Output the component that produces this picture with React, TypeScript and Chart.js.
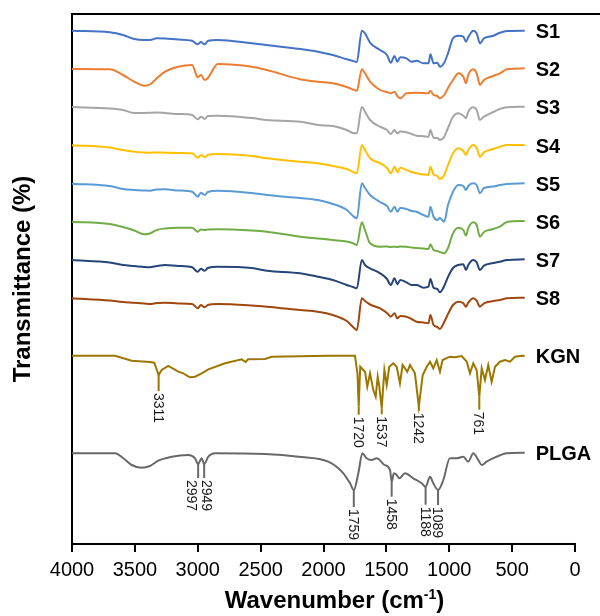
import React, { useEffect, useRef } from "react";
import { Chart, registerables } from "chart.js";

Chart.register(...registerables);

// ---------- DATA ----------
const seriesNames = ["S1", "S2", "S3", "S4", "S5", "S6", "S7", "S8", "KGN", "PLGA"];

// shared wavenumber grid (cm-1) for the S1..S8 spectra
const sWavenumbers = [4000, 3700, 3595, 3505, 3425, 3380, 3325, 3260, 3155, 3045, 3000, 2975, 2945, 2920, 2840, 2570, 2450, 2185, 2045, 1925, 1815, 1765, 1735, 1695, 1670, 1630, 1550, 1495, 1465, 1435, 1413, 1390, 1340, 1300, 1260, 1205, 1165, 1150, 1125, 1095, 1075, 1040, 1010, 970, 928, 888, 867, 849, 809, 782, 756, 724, 650, 597, 541, 400];

// stacked transmittance (arbitrary offset units)
const s1 = [513.3, 511.7, 509, 505, 504, 504, 505.7, 505.5, 504.5, 503.3, 499.7, 502, 499.7, 503, 504, 500.7, 499, 495, 492.3, 489, 484.7, 483, 482, 513.3, 510.7, 501.3, 494, 489, 481.3, 488, 482.3, 486.7, 485.7, 482.3, 483.3, 480.7, 480.7, 489.7, 480.7, 481.3, 477.3, 481.3, 490.7, 505.7, 508.3, 507.3, 502.3, 506.7, 513.3, 510.7, 500.7, 505.7, 508.3, 511.3, 513, 513.3];
const s2 = [475, 474.7, 469, 462.3, 458.3, 459.5, 465.7, 472.3, 477.3, 479, 466.7, 469, 464, 466, 480, 477.3, 474, 464.7, 462.3, 460.7, 457, 454.5, 453.3, 474.7, 470.7, 462.3, 454, 452, 450.7, 452.3, 448, 445.7, 450.7, 451, 451.3, 451, 450.7, 453.3, 449, 448, 445.7, 449, 456, 464, 470.7, 467.3, 460.7, 469, 474.7, 470.7, 459, 464, 468, 470.7, 474.7, 475.7];
const s3 = [437, 435.5, 434, 431, 431, 431.3, 431.5, 431, 430, 429, 424.7, 427.3, 425, 428, 428.3, 426, 424, 422.3, 419, 418, 414, 411, 410.7, 437.3, 432.3, 424, 417.3, 414, 410, 414, 410.7, 412.5, 411.7, 410, 408.3, 407.8, 407.3, 414, 406.3, 406, 404, 407.3, 416, 427.3, 430.7, 428.3, 425.7, 432.3, 436.7, 434, 424, 427.3, 432, 435, 436.7, 437.3];
const s4 = [398.7, 396.5, 394, 392.3, 391.5, 391.3, 391.5, 391.3, 391, 390.7, 386.3, 389, 386.7, 389, 390, 388, 385.7, 382.3, 380.7, 378, 375, 372, 370.7, 399, 394, 385.7, 380.7, 376, 370.7, 377.3, 371.7, 376.3, 374, 372, 370.7, 369.5, 369, 377.3, 369.7, 368, 365, 369, 379, 390.7, 395.7, 393, 389, 394, 399, 396.3, 387.3, 391.7, 395, 397.3, 399, 399];
const s5 = [360.3, 358, 355, 354, 353.5, 353.3, 354.5, 354.7, 353.5, 352.3, 347.3, 351.3, 349, 352, 353.3, 351, 349, 346, 344, 340, 334, 328, 325.7, 360.7, 356, 349, 342, 338, 332.3, 337.3, 332.3, 336, 335, 333, 332.3, 329, 327.3, 337.3, 327.3, 324, 326, 322.3, 339, 352.3, 359, 358, 354, 358, 360.7, 359, 350.7, 356, 357.5, 359, 360, 360.7];
const s6 = [322.3, 320, 317, 313.5, 309.7, 310.5, 314, 315.5, 316.3, 316.3, 312.3, 314.5, 314, 314.5, 314.7, 313.5, 312.3, 307.3, 305.5, 304, 302.5, 300.7, 299, 321.7, 314, 300.7, 297.3, 297.5, 297, 297.3, 297, 297.5, 297.3, 296.5, 296, 295.5, 295, 299.7, 294, 293, 292, 290.7, 296, 310.7, 316.3, 314, 308.3, 315.7, 321.7, 319, 307.3, 312, 315, 317.3, 322, 323];
const s7 = [284, 281.5, 279, 278, 277, 276.7, 278, 279, 278, 276.7, 272.3, 275.3, 273.3, 276, 277.3, 276, 273.3, 270.7, 267.3, 264, 259, 257, 255.7, 284, 279, 275.7, 270.7, 265, 259, 265.7, 259.7, 264, 261.7, 259, 259, 256.3, 257.3, 265, 256.3, 255, 251.7, 258, 267, 276, 279, 279.7, 274, 279, 284, 281.7, 274, 278.3, 281, 282.3, 284, 284.7];
const s8 = [245.7, 243.5, 242, 241.3, 240.5, 240, 241, 241.3, 240.5, 240, 235.7, 239, 236.7, 239, 240, 238.5, 237.3, 234, 232.3, 229, 223, 217, 214, 245.7, 243, 239.5, 235.7, 231, 227.3, 230.7, 225.7, 228, 227.3, 225, 222.3, 221.5, 220.7, 229, 219, 217, 215, 222, 230, 239, 242.3, 240.7, 237.3, 241.3, 245.7, 243.3, 237.3, 240.7, 243, 244, 245.7, 246.3];

const kgnWavenumbers = [4000, 3658, 3525, 3380, 3346, 3311, 3287, 3234, 3155, 3115, 3096, 3062, 3022, 2969, 2916, 2783, 2651, 2619, 2600, 2465, 2412, 1962, 1750, 1730, 1720, 1708, 1670, 1652, 1630, 1604, 1585, 1569, 1556, 1537, 1516, 1497, 1477, 1445, 1418, 1392, 1371, 1334, 1312, 1273, 1242, 1211, 1179, 1153, 1127, 1100, 1074, 1053, 995, 955, 901, 861, 835, 809, 782, 761, 742, 716, 690, 663, 636, 597, 557, 517, 477, 437, 400];
const kgnValues = [188.3, 188.3, 183.3, 182, 181.3, 169, 174, 178, 172.3, 170.7, 169, 166.7, 167.3, 170.7, 174.7, 180.7, 184.7, 182, 184.7, 185, 187.3, 188.3, 188.3, 170.7, 137.3, 177.3, 172.3, 157.3, 170.7, 154, 147.3, 167.3, 157.3, 135.7, 174, 159, 177.3, 180.7, 177.3, 160.7, 179, 172.3, 179, 170.7, 137.3, 169, 177.3, 182.3, 175.7, 184, 172.3, 184, 187.3, 186.7, 188, 182.3, 170.7, 180.7, 174, 147.3, 175.7, 164, 179, 162.3, 177.3, 182.3, 184, 182.3, 187.3, 188, 188.3];

const plgaWavenumbers = [4000, 3658, 3592, 3525, 3446, 3380, 3314, 3207, 3075, 3022, 2997, 2969, 2949, 2916, 2863, 2465, 2200, 1962, 1842, 1789, 1759, 1723, 1691, 1657, 1617, 1577, 1514, 1471, 1458, 1440, 1418, 1397, 1352, 1286, 1219, 1188, 1153, 1127, 1089, 1047, 995, 942, 888, 849, 809, 769, 742, 703, 623, 543, 400];
const plgaValues = [90.7, 90.7, 85.7, 79, 76.3, 78, 83.3, 87.3, 89, 85.7, 80, 85.7, 80, 87.3, 90.7, 90, 87.3, 82.3, 70.7, 60.7, 54, 70.7, 90.7, 85.7, 84, 85.7, 79, 74, 62.3, 70.7, 69, 65.7, 70.7, 65.7, 60.7, 57.3, 67.3, 60.7, 54, 64, 85.7, 85.7, 87.3, 82.3, 90.7, 84, 79, 82.3, 87.3, 90.7, 91.3];

// labelled peaks
const kgnPeaks = [3311, 1720, 1537, 1242, 761];
const plgaPeaks = [2997, 2949, 1759, 1458, 1188, 1089];

// x-axis ticks
const xTicks = [4000, 3500, 3000, 2500, 2000, 1500, 1000, 500, 0];

// ---------- STYLE ----------
const colors = ["#4472C4", "#ED7D31", "#A5A5A5", "#FFC000", "#5B9BD5", "#70AD47", "#264478", "#9E480E", "#9C7700", "#686868"];
const FONT = "'Liberation Sans', Arial, sans-serif";
// leader-line length (px) and horizontal text shift (px) per labelled peak
const kgnLead = [16, 8, 6, 4, 13];
const kgnShift = [0, 0, 0, 0, 0];
const plgaLead = [14, 14, 17, 15, 18, 15];
const plgaShift = [-6, 3, 0, 0, 0, 0];

const pair = (xs: number[], ys: number[]) => xs.map((x, i) => ({ x, y: ys[i] }));

const decorPlugin = {
  id: "ftirDecor",
  afterDatasetsDraw(chart: any) {
    const { ctx, chartArea } = chart;
    ctx.save();
    // top frame line
    ctx.strokeStyle = "#000";
    ctx.lineWidth = 2;
    ctx.beginPath();
    ctx.moveTo(chartArea.left - 1, chartArea.top);
    ctx.lineTo(chart.width, chartArea.top);
    ctx.stroke();

    // peak annotations
    const groups = [
      { name: "KGN", peaks: kgnPeaks, lead: kgnLead, shift: kgnShift },
      { name: "PLGA", peaks: plgaPeaks, lead: plgaLead, shift: plgaShift },
    ];
    groups.forEach((g) => {
      const di = seriesNames.indexOf(g.name);
      const ds = chart.data.datasets[di];
      const meta = chart.getDatasetMeta(di);
      g.peaks.forEach((wn, k) => {
        const idx = ds.data.findIndex((p: any) => p.x === wn);
        if (idx < 0) return;
        const pt = meta.data[idx];
        const lead = g.lead[k];
        ctx.strokeStyle = ds.borderColor;
        ctx.lineWidth = 2;
        ctx.beginPath();
        ctx.moveTo(pt.x, pt.y);
        ctx.lineTo(pt.x, pt.y + lead);
        ctx.stroke();
        ctx.save();
        ctx.translate(pt.x + g.shift[k], pt.y + lead + 2);
        ctx.rotate(Math.PI / 2);
        ctx.font = `14px ${FONT}`;
        ctx.fillStyle = "#1a1a1a";
        ctx.textAlign = "left";
        ctx.textBaseline = "middle";
        ctx.fillText(String(wn), 0, 1);
        ctx.restore();
      });
    });

    // series names at right end of each trace
    ctx.font = `bold 20px ${FONT}`;
    ctx.fillStyle = "#000";
    ctx.textAlign = "left";
    ctx.textBaseline = "middle";
    chart.data.datasets.forEach((ds: any, i: number) => {
      const meta = chart.getDatasetMeta(i);
      const last = meta.data[meta.data.length - 1];
      ctx.fillText(ds.label, last.x + 11, last.y + 2);
    });

    // x axis title with superscript
    const main = "Wavenumber (cm";
    const sup = "-1";
    const close = ")";
    ctx.font = `bold 24px ${FONT}`;
    const w1 = ctx.measureText(main).width;
    const w3 = ctx.measureText(close).width;
    ctx.font = `bold 14px ${FONT}`;
    const w2 = ctx.measureText(sup).width;
    const total = w1 + w2 + w3;
    const cx = (chartArea.left + chartArea.right) / 2 + 11;
    let x = cx - total / 2;
    const base = 608;
    ctx.textBaseline = "alphabetic";
    ctx.font = `bold 24px ${FONT}`;
    ctx.fillText(main, x, base);
    x += w1;
    ctx.font = `bold 14px ${FONT}`;
    ctx.fillText(sup, x, base - 9);
    x += w2;
    ctx.font = `bold 24px ${FONT}`;
    ctx.fillText(close, x, base);
    ctx.restore();
  },
};

export default function App() {
  const ref = useRef<HTMLCanvasElement | null>(null);

  useEffect(() => {
    if (!ref.current) return;
    const spectra = [
      pair(sWavenumbers, s1),
      pair(sWavenumbers, s2),
      pair(sWavenumbers, s3),
      pair(sWavenumbers, s4),
      pair(sWavenumbers, s5),
      pair(sWavenumbers, s6),
      pair(sWavenumbers, s7),
      pair(sWavenumbers, s8),
      pair(kgnWavenumbers, kgnValues),
      pair(plgaWavenumbers, plgaValues),
    ];
    const chart = new Chart(ref.current, {
      type: "line",
      data: {
        datasets: spectra.map((d, i) => ({
          label: seriesNames[i],
          data: d,
          borderColor: colors[i],
          backgroundColor: colors[i],
          borderWidth: 2,
          pointRadius: 0,
          fill: false,
          tension: 0,
          cubicInterpolationMode: i === 8 ? "default" : "monotone",
        })),
      },
      options: {
        animation: false,
        responsive: false,
        devicePixelRatio: 1,
        parsing: true,
        layout: { padding: { top: 14, right: 25, left: 0, bottom: 0 } },
        plugins: { legend: { display: false }, tooltip: { enabled: false } },
        scales: {
          x: {
            type: "linear",
            reverse: true,
            min: 0,
            max: 4000,
            afterFit: (s: any) => {
              s.height = 72;
            },
            afterBuildTicks: (s: any) => {
              s.ticks = xTicks.map((v) => ({ value: v }));
            },
            ticks: {
              callback: (v: any) => String(v),
              color: "#000",
              padding: 6,
              maxRotation: 0,
              autoSkip: false,
              font: { family: FONT, size: 20 },
            },
            grid: {
              display: true,
              drawOnChartArea: false,
              drawTicks: true,
              tickLength: 8,
              color: "#000",
              lineWidth: 2,
            },
            border: { display: true, color: "#000", width: 2 },
          },
          y: {
            type: "linear",
            min: 0,
            max: 530,
            afterFit: (s: any) => {
              s.width = 72;
            },
            ticks: { display: false },
            grid: { display: false, drawTicks: false },
            border: { display: true, color: "#000", width: 2 },
            title: {
              display: true,
              text: "Transmittance (%)",
              color: "#000",
              padding: { top: 9, bottom: 0 },
              font: { family: FONT, size: 24, weight: "bold" },
            },
          },
        },
      },
      plugins: [decorPlugin],
    } as any);
    return () => chart.destroy();
  }, []);

  return (
    <div style={{ position: "absolute", left: 0, top: 0, width: 600, height: 616, background: "#fff" }}>
      <canvas ref={ref} width={600} height={616} style={{ width: 600, height: 616, display: "block" }} />
    </div>
  );
}
